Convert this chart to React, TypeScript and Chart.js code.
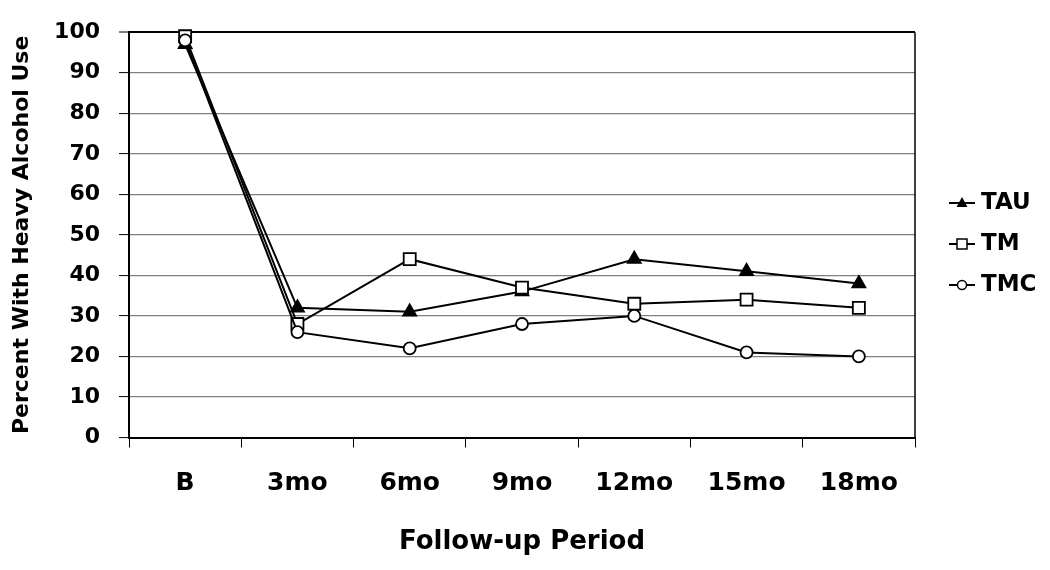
import React, { useEffect, useRef } from 'react';
import { Chart, registerables } from 'chart.js';

Chart.register(...registerables);

const categories = ['B', '3mo', '6mo', '9mo', '12mo', '15mo', '18mo'];
const seriesLabels = ['TAU', 'TM', 'TMC'];
const tauValues = [97, 32, 31, 36, 44, 41, 38];
const tmValues = [99, 28, 44, 37, 33, 34, 32];
const tmcValues = [98, 26, 22, 28, 30, 21, 20];
const yMin = 0;
const yMax = 100;
const yStep = 10;
const xTitle = 'Follow-up Period';
const yTitle = 'Percent With Heavy Alcohol Use';

const FONT = "'DejaVu Sans', 'Liberation Sans', Arial, sans-serif";

const framePlugin = {
  id: 'frame',
  beforeDatasetsDraw(chart: any) {
    const { ctx, chartArea } = chart;
    ctx.save();
    ctx.strokeStyle = '#000';
    ctx.lineWidth = 1.5;
    ctx.beginPath();
    ctx.moveTo(chartArea.right, chartArea.top);
    ctx.lineTo(chartArea.right, chartArea.bottom);
    ctx.stroke();
    ctx.restore();
  },
};

function drawMarker(ctx: CanvasRenderingContext2D, style: string, x: number, y: number) {
  ctx.save();
  ctx.lineWidth = 1.5;
  ctx.strokeStyle = '#000';
  ctx.beginPath();
  if (style === 'triangle') {
    ctx.fillStyle = '#000';
    ctx.moveTo(x, y - 6);
    ctx.lineTo(x + 5.5, y + 4);
    ctx.lineTo(x - 5.5, y + 4);
    ctx.closePath();
    ctx.fill();
  } else if (style === 'rect') {
    ctx.fillStyle = '#fff';
    ctx.rect(x - 5, y - 5, 10, 10);
    ctx.fill();
    ctx.stroke();
  } else {
    ctx.fillStyle = '#fff';
    ctx.arc(x, y, 4.5, 0, Math.PI * 2);
    ctx.fill();
    ctx.stroke();
  }
  ctx.restore();
}

const sideLegendPlugin = {
  id: 'sideLegend',
  afterDraw(chart: any) {
    const { ctx, chartArea } = chart;
    const x0 = chartArea.right + 34;
    chart.data.datasets.forEach((ds: any, i: number) => {
      const y = 203 + 41 * i;
      ctx.save();
      ctx.strokeStyle = '#000';
      ctx.lineWidth = 2;
      ctx.beginPath();
      ctx.moveTo(x0, y);
      ctx.lineTo(x0 + 26, y);
      ctx.stroke();
      ctx.restore();
      drawMarker(ctx, ds.pointStyle, x0 + 13, y);
      ctx.save();
      ctx.fillStyle = '#000';
      ctx.font = `bold 23px ${FONT}`;
      ctx.textBaseline = 'middle';
      ctx.textAlign = 'left';
      ctx.fillText(ds.label, x0 + 32, y);
      ctx.restore();
    });
  },
};

export default function App() {
  const canvasRef = useRef<HTMLCanvasElement | null>(null);

  useEffect(() => {
    if (!canvasRef.current) return;
    const mk = (label: string, data: number[], style: string, radius: number, fill: string, order: number) => ({
      label,
      data,
      order,
      borderColor: '#000',
      borderWidth: 2,
      pointStyle: style,
      pointRadius: radius,
      pointBorderWidth: 1.8,
      pointBorderColor: '#000',
      pointBackgroundColor: fill,
      tension: 0,
      fill: false,
      clip: false,
    });
    const chart = new Chart(canvasRef.current, {
      type: 'line',
      data: {
        labels: categories,
        datasets: [
          mk(seriesLabels[0], tauValues, 'triangle', 7.5, '#000', 2),
          mk(seriesLabels[1], tmValues, 'rect', 8.5, '#fff', 1),
          mk(seriesLabels[2], tmcValues, 'circle', 6, '#fff', 0),
        ],
      },
      options: {
        animation: false,
        responsive: true,
        maintainAspectRatio: false,
        layout: { padding: { left: 0, right: 135, top: 29, bottom: 0 } },
        plugins: { legend: { display: false }, tooltip: { enabled: false } },
        scales: {
          x: {
            type: 'category',
            offset: true,
            grid: {
              offset: true,
              drawOnChartArea: false,
              drawTicks: true,
              tickLength: 10,
              tickColor: '#000',
              tickWidth: 1,
            },
            border: { display: true, color: '#000', width: 2 },
            ticks: {
              color: '#000',
              font: { family: FONT, size: 25, weight: 'bold' },
              padding: 21,
              maxRotation: 0,
              autoSkip: false,
            },
            title: {
              display: true,
              text: xTitle,
              color: '#000',
              font: { family: FONT, size: 26, weight: 'bold' },
              padding: { top: 0, bottom: 12 },
            },
            afterFit: (s: any) => {
              s.height = 132.5;
            },
          },
          y: {
            min: yMin,
            max: yMax,
            ticks: {
              stepSize: yStep,
              color: '#000',
              font: { family: FONT, size: 22, weight: 'bold' },
              padding: 19,
            },
            grid: {
              color: (c: any) => (c.tick && c.tick.value === yMax ? '#000' : '#808080'),
              lineWidth: (c: any) => (c.tick && c.tick.value === yMax ? 2 : 1.2),
              tickColor: '#000',
              tickLength: 10,
              tickWidth: 1,
              drawTicks: true,
            },
            border: { display: true, color: '#000', width: 2 },
            title: {
              display: true,
              text: yTitle,
              color: '#000',
              font: { family: FONT, size: 22, weight: 'bold' },
              padding: { top: 9, bottom: 0 },
            },
            afterFit: (s: any) => {
              s.width = 129;
            },
          },
        },
      } as any,
      plugins: [framePlugin, sideLegendPlugin],
    });
    return () => chart.destroy();
  }, []);

  return (
    <div style={{ position: 'absolute', left: 0, top: 0, width: 1050, height: 570, background: '#fff' }}>
      <canvas ref={canvasRef} />
    </div>
  );
}
